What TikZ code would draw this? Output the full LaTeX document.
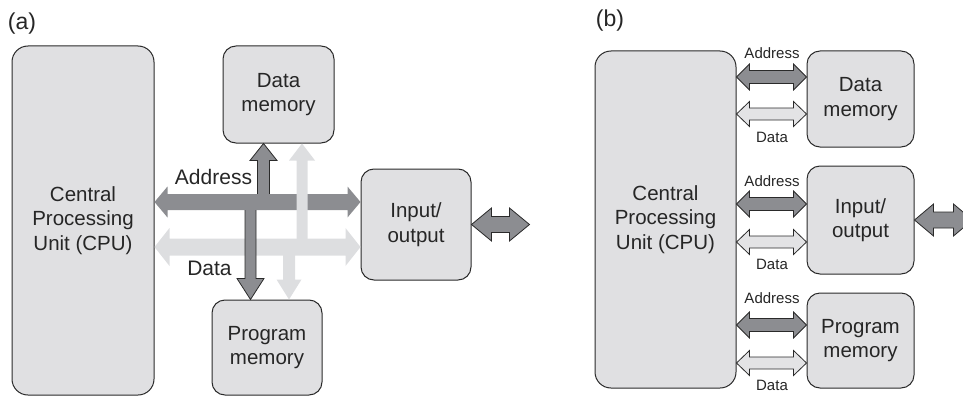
\documentclass[tikz,border=0pt]{standalone}
\usepackage{fontspec}
\setmainfont{Liberation Sans}
\usetikzlibrary{calc}
\definecolor{boxfill}{HTML}{E0E0E2}
\definecolor{darkarrow}{HTML}{8C8D91}
\definecolor{lightarrow}{HTML}{DDDEE0}
\definecolor{lightarrowb}{HTML}{E3E3E5}
\definecolor{outline}{HTML}{2A2A2A}
\definecolor{txt}{HTML}{262626}
% horizontal double block arrow: #1 style, #2 left tip, #3 right tip, #4 head length, #5 head half width, #6 body half width
\newcommand\hbus[6]{%
  \path[#1] (#2) -- ($(#2)+(#4,-#5)$) -- ($(#2)+(#4,-#6)$) -- ($(#3)+(-#4,-#6)$) -- ($(#3)+(-#4,-#5)$) -- (#3)
    -- ($(#3)+(-#4,#5)$) -- ($(#3)+(-#4,#6)$) -- ($(#2)+(#4,#6)$) -- ($(#2)+(#4,#5)$) -- cycle;}
% vertical single block arrow pointing up, open tail: #2 tip, #3 tail level
\newcommand\vup[6]{%
  \path[#1] ($(#2|-#3)+(-#6,0)$) -- ($(#2)+(-#6,#4)$) -- ($(#2)+(-#5,#4)$) -- (#2)
    -- ($(#2)+(#5,#4)$) -- ($(#2)+(#6,#4)$) -- ($(#2|-#3)+(#6,0)$);}
% vertical single block arrow pointing down, open tail
\newcommand\vdown[6]{%
  \path[#1] ($(#2|-#3)+(-#6,0)$) -- ($(#2)+(-#6,-#4)$) -- ($(#2)+(-#5,-#4)$) -- (#2)
    -- ($(#2)+(#5,-#4)$) -- ($(#2)+(#6,-#4)$) -- ($(#2|-#3)+(#6,0)$);}
\tikzset{
  blk/.style={draw=outline, line width=1pt, fill=boxfill, rounded corners=13pt, inner sep=0pt,
    align=center, text=txt, font=\fontsize{20.5}{24.5}\selectfont},
  cpubox/.style={blk, rounded corners=16pt},
  lbl/.style={text=txt, inner sep=0pt, font=\fontsize{21}{25}\selectfont},
  slbl/.style={text=txt, inner sep=0pt, font=\fontsize{15}{18}\selectfont},
  panel/.style={text=txt, inner sep=0pt, font=\fontsize{23}{27}\selectfont},
  darkbus/.style={fill=darkarrow},
  lightbus/.style={fill=lightarrow},
  darkout/.style={fill=darkarrow, draw=outline, line width=0.8pt},
  lightout/.style={fill=lightarrowb, draw=outline, line width=0.8pt},
}
\begin{document}
\begin{tikzpicture}[x=1pt, y=-1pt]
\useasboundingbox (0,0) rectangle (963,396);
\clip (0,0) rectangle (963,396);

% ---------------- panel (a) ----------------
\node[panel] (la) at (22,24) {(a)};
\node[cpubox, minimum width=142pt, minimum height=349pt] (cpuA) at (83,220.5) {Central\\Processing\\Unit (CPU)};
\node[blk, minimum width=111pt, minimum height=97pt] (dmA) at (278.5,94.5) {Data\\memory};
\node[blk, minimum width=110pt, minimum height=95pt] (pmA) at (267,347.5) {Program\\memory};
\node[blk, minimum width=110pt, minimum height=111pt] (ioA) at (416,224.5) {Input/\\output};

\coordinate (aAddrL) at (cpuA.east |- 0,202);
\coordinate (aAddrR) at (ioA.west |- 0,202);
\coordinate (aDataL) at (cpuA.east |- 0,247);
\coordinate (aDataR) at (ioA.west |- 0,247);
\coordinate (dmTipA) at (263.5,0 |- dmA.south);
\coordinate (dmTipD) at (302,0 |- dmA.south);
\coordinate (pmTipA) at (250.5,0 |- pmA.north);
\coordinate (pmTipD) at (289,0 |- pmA.north);
\coordinate (addrTop) at (0,194);
\coordinate (addrBot) at (0,210);
\coordinate (dataMid) at (0,247);
\coordinate (ioAext) at ($(ioA.east)+(58,0)$);

\vup{darkout}{dmTipA}{addrTop}{17}{13.5}{6}
\hbus{darkbus}{aAddrL}{aAddrR}{13}{15.5}{8}
\vup{lightbus}{dmTipD}{dataMid}{17}{13}{5.5}
\hbus{lightbus}{aDataL}{aDataR}{15}{19}{8.5}
\vdown{lightbus}{pmTipD}{dataMid}{20}{12.5}{6}
\vdown{darkout}{pmTipA}{addrBot}{21}{13.5}{5.5}
\hbus{darkout}{ioA.east}{ioAext}{20}{16.5}{8}

\node[lbl] (addrA) at (213.5,176.5) {Address};
\node[lbl] (dataA) at (209.5,268.5) {Data};

% ---------------- panel (b) ----------------
\node[panel] (lb) at (610,21) {(b)};
\node[cpubox, minimum width=141pt, minimum height=337pt] (cpuB) at (665.5,219.5) {Central\\Processing\\Unit (CPU)};
\node[blk, minimum width=107pt, minimum height=96pt] (dmB) at (860.5,99) {Data\\memory};
\node[blk, minimum width=107pt, minimum height=108pt] (ioB) at (860.5,220) {Input/\\output};
\node[blk, minimum width=107pt, minimum height=95pt] (pmB) at (860.5,340.5) {Program\\memory};

\coordinate (b1L) at (cpuB.east |- 0,77);  \coordinate (b1R) at (dmB.west |- 0,77);
\coordinate (b2L) at (cpuB.east |- 0,114); \coordinate (b2R) at (dmB.west |- 0,114);
\coordinate (b3L) at (cpuB.east |- 0,204); \coordinate (b3R) at (ioB.west |- 0,204);
\coordinate (b4L) at (cpuB.east |- 0,242); \coordinate (b4R) at (ioB.west |- 0,242);
\coordinate (b5L) at (cpuB.east |- 0,325); \coordinate (b5R) at (pmB.west |- 0,325);
\coordinate (b6L) at (cpuB.east |- 0,363); \coordinate (b6R) at (pmB.west |- 0,363);
\coordinate (ioBext) at ($(ioB.east)+(58,0)$);

\hbus{darkout}{b1L}{b1R}{13}{13}{6.5}
\hbus{lightout}{b2L}{b2R}{13}{12.5}{6}
\hbus{darkout}{b3L}{b3R}{13}{13}{6.5}
\hbus{lightout}{b4L}{b4R}{13}{12.5}{6}
\hbus{darkout}{b5L}{b5R}{13}{13}{6.5}
\hbus{lightout}{b6L}{b6R}{13}{12.5}{6}
\hbus{darkout}{ioB.east}{ioBext}{19}{16}{8}

\node[slbl] (ba1) at (772,53) {Address};
\node[slbl] (bd1) at (772,137) {Data};
\node[slbl] (ba2) at (772,181) {Address};
\node[slbl] (bd2) at (772,264) {Data};
\node[slbl] (ba3) at (772,298) {Address};
\node[slbl] (bd3) at (772,385) {Data};
\end{tikzpicture}
\end{document}
